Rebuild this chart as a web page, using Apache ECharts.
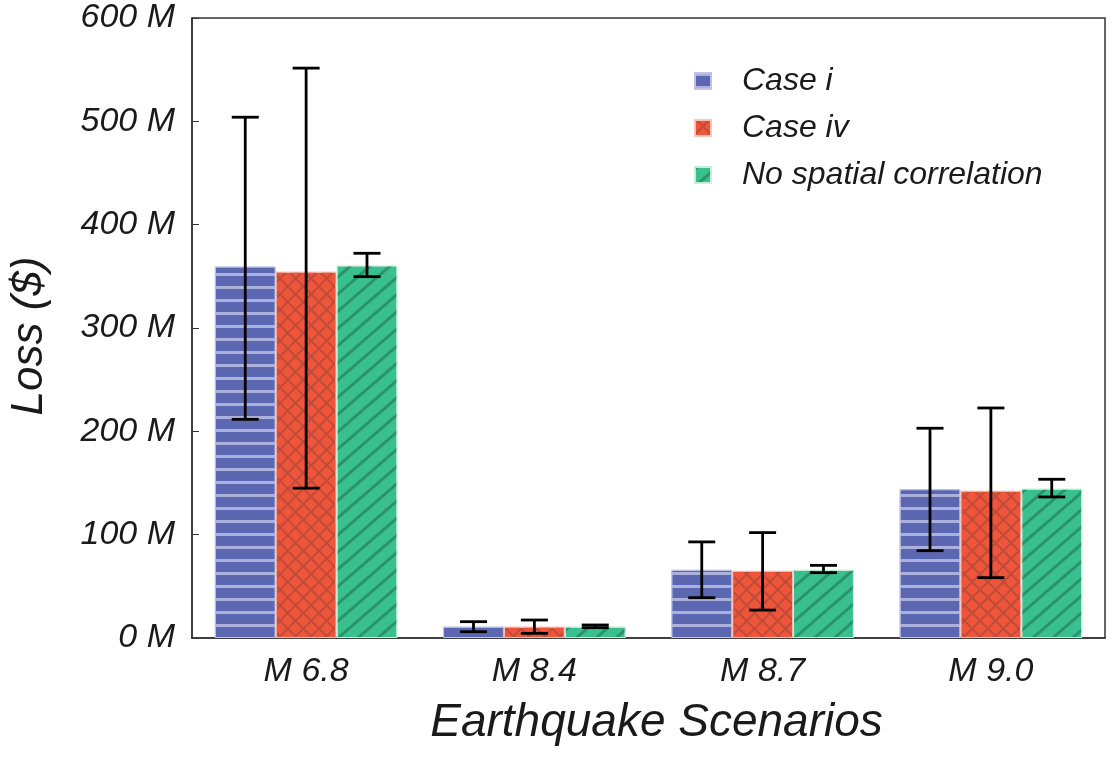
<!DOCTYPE html>
<html>
<head>
<meta charset="utf-8">
<script src="https://cdn.jsdelivr.net/npm/echarts@6/dist/echarts.min.js"></script>
<style>html,body{margin:0;padding:0;background:#fff}#c{width:1112px;height:757px}</style>
</head>
<body>
<div id="c"></div>
<script>
// Data (values in millions of $)
const categories = ['M 6.8', 'M 8.4', 'M 8.7', 'M 9.0'];
const seriesNames = ['Case i', 'Case iv', 'No spatial correlation'];
const caseI = [359.5, 11, 66, 144];
const caseIV = [354.5, 11, 65, 142.5];
const noSpatial = [360.5, 11, 66, 144.5];
const caseILow = [211.6, 6.1, 39, 84.5];
const caseIHigh = [504, 15.8, 93, 203];
const caseIVLow = [145, 4.5, 27, 58.4];
const caseIVHigh = [551.5, 17.4, 102, 222.6];
const noSpatialLow = [349.7, 10, 63.2, 136.5];
const noSpatialHigh = [372.3, 12.6, 70.3, 153.6];
const yTicks = [0, 100, 200, 300, 400, 500, 600];

const FONT = "'Liberation Sans', Arial, sans-serif";
const chart = echarts.init(document.getElementById('c'), null, {renderer: 'canvas'});

const values = [caseI, caseIV, noSpatial];
const lows = [caseILow, caseIVLow, noSpatialLow];
const highs = [caseIHigh, caseIVHigh, noSpatialHigh];

const styles = [
  { color: '#5B67B0', borderColor: 'rgba(190,194,230,0.9)', borderWidth: 1,
    decal: { symbol: 'rect', symbolSize: 1, dashArrayX: [1, 0], dashArrayY: [2.7, 9.8], rotation: 0, color: 'rgba(185,189,228,0.85)' } },
  { color: '#BF4B39', borderColor: 'rgba(250,200,190,0.9)', borderWidth: 1,
    decal: { symbol: 'rect', symbolSize: 1, dashArrayX: [9, 1.6], dashArrayY: [9, 1.6], rotation: Math.PI / 4, color: '#EE553B' } },
  { color: '#3ABF8E', borderColor: 'rgba(200,238,220,0.9)', borderWidth: 1,
    decal: { symbol: 'rect', symbolSize: 1, dashArrayX: [1, 0], dashArrayY: [2.2, 9.5], rotation: -Math.PI / 4.4, color: 'rgba(30,120,80,0.6)' } }
];

const series = [];
for (let k = 0; k < 3; k++) {
  series.push({
    name: seriesNames[k], type: 'bar', data: values[k],
    barGap: '0%', barCategoryGap: '20%',
    itemStyle: styles[k],
    emphasis: { disabled: true }
  });
}
for (let k = 0; k < 3; k++) {
  const d = categories.map((c, i) => [i, lows[k][i], highs[k][i]]);
  series.push({
    type: 'custom', name: seriesNames[k] + ' err', data: d,
    encode: { x: 0, y: [1, 2] }, z: 10, silent: true,
    renderItem: (params, api) => {
      const idx = api.value(0);
      const catW = api.size([1, 0])[0];
      const bw = catW * 0.8 / 3;
      const cx = api.coord([idx, 0])[0] + (k - 1) * bw;
      const yl = api.coord([idx, api.value(1)])[1];
      const yh = api.coord([idx, api.value(2)])[1];
      const hw = 13.5;
      const st = { stroke: '#000', lineWidth: 2.8 };
      return { type: 'group', children: [
        { type: 'line', shape: { x1: cx, y1: yl, x2: cx, y2: yh }, style: st },
        { type: 'line', shape: { x1: cx - hw, y1: yl, x2: cx + hw, y2: yl }, style: st },
        { type: 'line', shape: { x1: cx - hw, y1: yh, x2: cx + hw, y2: yh }, style: st }
      ]};
    }
  });
}

chart.setOption({
  animation: false,
  backgroundColor: '#fff',
  textStyle: { fontFamily: FONT },
  grid: { left: 192, right: 7, top: 18, bottom: 119, show: true, borderColor: '#333', borderWidth: 1.5, containLabel: false },
  legend: {
    data: seriesNames.map(n => ({ name: n, icon: 'rect' })), orient: 'vertical', left: 694, top: 65, padding: 0,
    itemWidth: 16, itemHeight: 16, itemGap: 15,
    textStyle: { fontSize: 32, fontStyle: 'italic', color: '#1a1a1a', fontFamily: FONT, padding: [0, 0, 0, 26] },
    selectedMode: false
  },
  xAxis: {
    type: 'category', data: categories,
    name: 'Earthquake Scenarios', nameLocation: 'middle', nameGap: 62,
    nameTextStyle: { fontSize: 46, fontStyle: 'italic', color: '#1a1a1a', fontFamily: FONT, padding: [0, 0, 0, 16] },
    axisLine: { lineStyle: { color: '#333', width: 1.5 } },
    axisTick: { show: true, inside: true, alignWithLabel: true, length: 5, lineStyle: { color: '#333', width: 1 } },
    axisLabel: { fontSize: 34, fontStyle: 'italic', color: '#1a1a1a', margin: 17, fontFamily: FONT },
    splitLine: { show: false }
  },
  yAxis: {
    type: 'value', min: 0, max: 600, interval: 100,
    name: 'Loss ($)', nameLocation: 'middle', nameGap: 140,
    nameTextStyle: { fontSize: 44, fontStyle: 'italic', color: '#1a1a1a', fontFamily: FONT, padding: [0, 16, 0, 0] },
    axisLine: { show: true, lineStyle: { color: '#333', width: 1.5 } },
    axisTick: { show: true, inside: true, length: 7, lineStyle: { color: '#333', width: 1 } },
    axisLabel: { fontSize: 34, fontStyle: 'italic', color: '#1a1a1a', margin: 17, fontFamily: FONT,
      formatter: v => (yTicks.indexOf(v) >= 0 ? v + ' M' : '') },
    splitLine: { show: false }
  },
  series: series
});
</script>
</body>
</html>
